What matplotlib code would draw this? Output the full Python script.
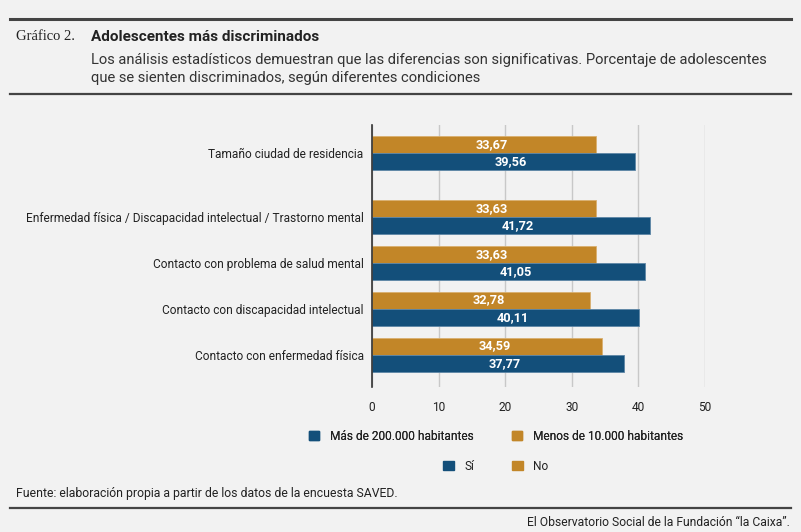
import matplotlib.pyplot as plt
from matplotlib.patches import Patch
from matplotlib.lines import Line2D

# datos del grafico
categorias = [
    "Tamaño ciudad de residencia",
    "Enfermedad física / Discapacidad intelectual / Trastorno mental",
    "Contacto con problema de salud mental",
    "Contacto con discapacidad intelectual",
    "Contacto con enfermedad física",
]
valores_si = [39.56, 41.72, 41.05, 40.11, 37.77]   # azul (Sí / Más de 200.000)
valores_no = [33.67, 33.63, 33.63, 32.78, 34.59]   # dorado (No / Menos de 10.000)
ticks_x = [0, 10, 20, 30, 40, 50]

AZUL = "#134f7a"
ORO = "#c28628"
FONDO = "#f2f2f2"
TEXTO = "#222222"

plt.rcParams['font.family'] = ['Roboto', 'DejaVu Sans']

fig = plt.figure(figsize=(8.01, 5.32), dpi=100, facecolor=FONDO)
ax = fig.add_axes([0.4644, 0.2726, 0.4157, 0.4925])
ax.set_facecolor(FONDO)

# el primer grupo va algo mas separado del resto
pos = [0, 1.39, 2.39, 3.39, 4.39]
alto = 0.37
off = 0.19

y_no = [p - off for p in pos]
y_si = [p + off for p in pos]
ax.barh(y_no, valores_no, height=alto, color=ORO, edgecolor="#d9b070", linewidth=0.6, zorder=3)
ax.barh(y_si, valores_si, height=alto, color=AZUL, edgecolor="#5d86a6", linewidth=0.6, zorder=3)

for y, v in zip(y_no, valores_no):
    ax.text(v / 2 + 1.1, y, f"{v:.2f}".replace(".", ","), ha="center", va="center",
            color="white", fontsize=9.2, fontweight="bold", zorder=4)
for y, v in zip(y_si, valores_si):
    ax.text(v / 2 + 1.1, y, f"{v:.2f}".replace(".", ","), ha="center", va="center",
            color="white", fontsize=9.2, fontweight="bold", zorder=4)

ax.set_xlim(0, 50)
ax.set_ylim(5.09, -0.61)
ax.set_xticks(ticks_x)
ax.set_xticklabels([str(t) for t in ticks_x])
ax.set_yticks(pos)
ax.set_yticklabels(categorias)
ax.tick_params(axis="both", length=0, colors=TEXTO, labelsize=8.6)
ax.tick_params(axis="x", pad=10)
ax.tick_params(axis="y", pad=6)
ax.grid(axis="x", color="#c8c8c8", linewidth=1, zorder=0)
for s in ["top", "right", "bottom"]:
    ax.spines[s].set_visible(False)
ax.spines["left"].set_color("#333333")
ax.spines["left"].set_linewidth(1.2)
ax.spines["left"].set_zorder(5)

# leyendas
leg1 = fig.legend(handles=[Patch(color=AZUL, label="Más de 200.000 habitantes"),
                           Patch(color=ORO, label="Menos de 10.000 habitantes")],
                  loc="center", bbox_to_anchor=(496 / 801, 1 - 436 / 532), ncol=2,
                  frameon=False, fontsize=8.6, handlelength=0.85, handleheight=0.85,
                  handletextpad=0.9, columnspacing=3.2, labelcolor=TEXTO)
leg2 = fig.legend(handles=[Patch(color=AZUL, label="Sí"),
                           Patch(color=ORO, label="No")],
                  loc="center", bbox_to_anchor=(496 / 801, 1 - 466 / 532), ncol=2,
                  frameon=False, fontsize=8.6, handlelength=0.85, handleheight=0.85,
                  handletextpad=0.9, columnspacing=3.2, labelcolor=TEXTO)
fig.add_artist(leg1)

# lineas horizontales
for yy, lw in [(19, 2.2), (94, 1.6), (508, 1.6)]:
    fig.add_artist(Line2D([10 / 801, 791 / 801], [1 - yy / 532] * 2,
                          color="#444444", linewidth=lw, transform=fig.transFigure))

# titulos
fig.text(16 / 801, 1 - 37 / 532, "Gráfico 2.", family=["Liberation Serif", "DejaVu Serif"],
         fontsize=10.5, color=TEXTO, va="center")
fig.text(91 / 801, 1 - 37 / 532, "Adolescentes más discriminados", fontsize=11,
         fontweight="bold", color=TEXTO, va="center")
fig.text(91 / 801, 1 - 60 / 532,
         "Los análisis estadísticos demuestran que las diferencias son significativas. Porcentaje de adolescentes",
         fontsize=10.6, color="#333333", va="center")
fig.text(91 / 801, 1 - 78 / 532, "que se sienten discriminados, según diferentes condiciones",
         fontsize=10.6, color="#333333", va="center")

fig.text(16 / 801, 1 - 494 / 532,
         "Fuente: elaboración propia a partir de los datos de la encuesta SAVED.",
         fontsize=8.85, color=TEXTO, va="center")
fig.text(790 / 801, 1 - 522 / 532, "El Observatorio Social de la Fundación “la Caixa”.",
         fontsize=8.7, color=TEXTO, va="center", ha="right")

fig.savefig("out.png", dpi=100, facecolor=FONDO)
